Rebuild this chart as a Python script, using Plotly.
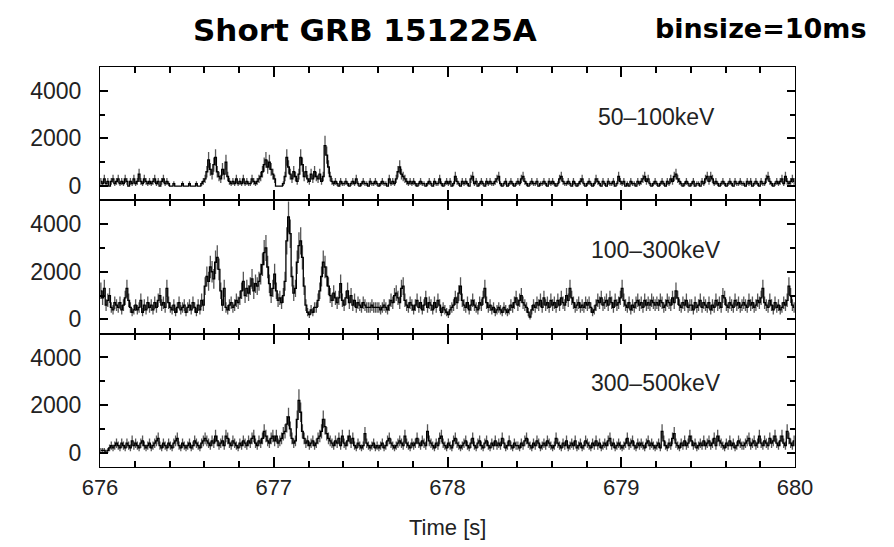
import numpy as np
import plotly.graph_objects as go
from plotly.subplots import make_subplots

# ---- data: counts per 10 ms bin, starting at t = 676.00 s ----
binsize = 0.01
t_start = 676.0

counts_50_100 = [
    2,1,3,1,2,0,2,3,1,2,  3,1,2,1,3,2,0,2,1,3,  1,2,5,2,1,3,2,1,2,1,  2,3,1,2,0,2,3,1,2,1,
    0,0,1,0,0,0,0,1,0,0,  0,1,0,0,0,1,0,0,1,2,  3,6,11,7,5,9,12,6,4,3, 7,5,10,4,2,1,2,1,3,1,
    2,1,3,1,2,1,1,3,2,1,  2,3,4,6,9,11,8,10,7,5, 3,0,0,0,0,1,4,12,8,5, 3,6,4,2,5,12,9,4,6,3,
    2,5,3,6,4,3,5,2,4,17, 13,8,4,2,1,2,1,0,2,1, 1,2,1,0,1,2,1,3,1,0,  1,2,1,1,0,2,1,1,2,1,
    0,1,2,1,1,0,3,1,2,1,  3,6,8,5,4,3,2,1,2,1,  2,1,0,1,2,1,1,0,1,2,  1,0,2,1,1,3,1,0,1,2,
    1,2,0,1,4,2,1,0,2,1,  2,1,0,3,4,1,2,0,1,2,  1,0,2,1,2,1,1,2,3,4,  1,0,1,2,0,1,2,1,0,1,
    2,1,3,4,2,1,0,1,2,1,  1,2,0,1,1,2,1,0,2,1,  2,1,0,1,3,4,2,1,1,2,  1,0,2,1,0,1,2,3,1,0,
    1,2,1,0,1,3,2,1,0,2,  1,0,2,1,1,2,0,1,4,2,  1,2,0,1,0,2,1,1,0,2,  1,2,3,4,2,3,1,0,1,2,
    1,0,1,2,1,0,2,1,3,2,  4,5,3,2,1,0,1,2,1,0,  1,2,0,1,1,0,2,1,3,4,  2,4,3,1,2,1,0,1,2,1,
    0,1,2,1,0,2,1,1,2,1,  1,0,2,1,2,0,1,2,1,0,  2,1,1,3,4,2,1,0,1,2,  1,2,3,1,4,2,1,2,3,2,
]

counts_100_300 = [
    12,9,13,6,8,10,5,4,7,6,  5,7,4,6,9,13,8,5,3,4,  6,4,5,8,3,6,4,7,5,6,  4,7,5,8,10,6,7,5,13,7,
    5,4,6,3,5,7,4,5,6,3,  5,6,4,7,5,3,6,4,8,6,  14,18,16,22,20,17,24,26,21,12,  6,13,5,4,6,7,5,6,8,7,
    9,12,16,10,13,11,14,17,12,15,  14,16,19,23,28,30,22,15,10,13,  19,12,8,9,7,10,16,33,43,36,  18,11,13,24,31,33,26,14,6,3,
    2,4,3,5,5,8,12,18,24,22,  18,14,10,8,11,9,7,9,15,8,  6,9,12,7,10,6,8,5,7,6,  5,7,6,5,5,5,6,5,5,5,
    5,4,5,6,5,4,6,8,7,10,  11,9,7,13,14,8,6,5,7,6,  4,6,8,5,7,4,6,9,5,7,  6,4,7,5,8,6,3,5,4,3,
    2,4,5,6,9,7,11,14,8,6,  5,7,4,6,8,6,5,4,7,6,  9,13,7,5,6,4,5,3,4,5,  4,3,5,4,3,4,6,5,7,9,
    6,8,10,7,6,5,3,1,4,6,  5,7,6,8,5,9,6,7,5,8,  6,7,5,8,6,9,7,6,10,8,  13,9,7,5,6,7,5,6,5,7,
    6,7,5,3,4,6,8,7,9,6,  7,8,6,9,7,5,8,6,7,9,  13,8,6,5,7,4,6,5,7,8,  6,7,5,8,6,7,6,8,7,6,
    7,6,8,7,5,6,8,7,6,9,  7,12,9,6,5,7,6,8,5,6,  6,4,7,5,6,8,5,7,6,5,  7,4,6,5,8,6,7,5,10,9,
    6,5,7,6,5,8,6,7,5,6,  7,6,5,8,6,7,5,6,8,7,  9,13,7,6,5,8,6,4,7,5,  6,4,5,7,6,8,14,10,6,5,
]

counts_300_500 = [
    1,1,1,0,1,2,3,2,3,4,  3,2,4,3,2,4,3,2,5,3,  4,3,2,4,5,3,2,3,4,2,  3,4,5,6,3,2,4,3,2,4,
    3,2,4,5,6,3,2,4,3,2,  3,4,2,3,5,4,3,2,4,5,  6,5,4,3,5,4,7,5,3,4,  5,3,7,6,4,3,5,4,3,2,
    4,3,5,4,3,5,4,6,7,4,  3,5,4,6,9,7,5,4,6,7,  5,7,4,5,6,8,9,12,15,10,  6,4,5,14,22,17,9,6,4,5,
    3,4,5,3,4,6,7,9,14,11,  8,6,5,4,3,5,4,6,3,7,  4,3,5,7,4,6,3,2,4,3,  2,3,8,4,3,2,3,4,2,3,
    2,3,4,2,3,5,6,4,3,2,  3,4,5,4,3,7,4,3,2,4,  3,4,6,4,3,5,4,3,9,5,  4,3,2,4,3,6,7,4,3,2,
    4,3,2,5,6,4,3,2,3,4,  5,3,2,4,6,3,2,4,5,3,  2,4,5,3,2,4,3,5,3,4,  3,6,4,2,3,5,3,2,4,3,
    3,2,4,3,5,6,4,3,2,4,  3,5,4,2,3,4,3,5,4,3,  2,3,6,4,3,2,4,3,5,2,  3,4,3,5,2,3,4,2,3,5,
    4,3,2,4,3,5,3,4,2,3,  4,3,5,6,3,4,2,3,4,3,  2,3,4,6,3,4,5,3,2,4,  3,4,3,2,4,5,3,4,3,2,
    3,4,2,9,5,3,2,4,3,6,  8,4,3,2,4,3,5,3,4,7,  5,3,4,2,3,4,3,5,3,4,  5,3,4,6,3,7,5,4,3,2,
    4,3,5,3,4,2,3,5,4,3,  3,4,5,6,3,4,5,3,4,7,  4,3,5,4,3,6,4,5,7,4,  3,5,7,4,3,9,6,4,3,5,
]

band_labels = ["50–100keV", "100–300keV", "300–500keV"]
x_range = [676, 680]
y_range = [-600, 5000]
x_major_ticks = [676, 677, 678, 679, 680]
y_major_ticks = [0, 2000, 4000]

series = [counts_50_100, counts_100_300, counts_300_500]

fig = make_subplots(rows=3, cols=1, shared_xaxes=False, vertical_spacing=0)

FONT = "Liberation Sans, Arial, Helvetica, sans-serif"

for i, c in enumerate(series):
    c = np.array(c, dtype=float)
    t = t_start + binsize * (np.arange(len(c)) + 0.5)
    rate = c / binsize
    err = np.sqrt(c) / binsize
    fig.add_trace(go.Scatter(
        x=t, y=rate, mode="lines",
        line=dict(color="#000000", width=1.3, shape="hvh"),
        error_y=dict(type="data", array=err, visible=True,
                     color="rgba(45,45,45,0.8)", thickness=1.3, width=0),
        showlegend=False, hoverinfo="skip",
    ), row=i + 1, col=1)

for r in range(1, 4):
    fig.update_xaxes(
        range=x_range, tickmode="array", tickvals=x_major_ticks,
        ticks="inside", ticklen=10, tickwidth=1.5, tickcolor="black",
        showline=True, linecolor="black", linewidth=1.2, mirror="ticks",
        showgrid=False, zeroline=False,
        minor=dict(dtick=0.2, ticks="inside", ticklen=6, tickwidth=1.5,
                   tickcolor="black", showgrid=False),
        showticklabels=(r == 3),
        tickfont=dict(family=FONT, size=22, color="#222"),
        row=r, col=1)
    fig.update_yaxes(
        range=y_range, tickmode="array", tickvals=y_major_ticks,
        ticks="inside", ticklen=8, tickwidth=1.5, tickcolor="black",
        showline=True, linecolor="black", linewidth=1.2, mirror="ticks",
        showgrid=False, zeroline=False,
        minor=dict(dtick=1000, ticks="inside", ticklen=5, tickwidth=1.5,
                   tickcolor="black", showgrid=False),
        tickfont=dict(family=FONT, size=23, color="#222"),
        ticklabelstandoff=13,
        row=r, col=1)

ann = []
label_y = [0.875, 0.5425, 0.21]
for lab, yy in zip(band_labels, label_y):
    ann.append(dict(text=lab, x=0.80, y=yy, xref="paper", yref="paper",
                    xanchor="center", yanchor="middle",
                    showarrow=False, font=dict(family=FONT, size=23, color="#222")))
ann.append(dict(text="<b>Short GRB 151225A</b>", x=0.381, y=1.0925, xref="paper",
                yref="paper", xanchor="center", yanchor="middle", showarrow=False,
                font=dict(family="DejaVu Sans", size=31, color="black")))
ann.append(dict(text="<b>binsize=10ms</b>", x=0.951, y=1.0975, xref="paper",
                yref="paper", xanchor="center", yanchor="middle", showarrow=False,
                font=dict(family="DejaVu Sans", size=27, color="black")))
ann.append(dict(text="Time [s]", x=0.50, y=-0.15, xref="paper", yref="paper",
                xanchor="center", yanchor="middle",
                showarrow=False, font=dict(family=FONT, size=22, color="#222")))

fig.update_layout(
    template="simple_white",
    width=894, height=547,
    margin=dict(l=100, r=99, t=67, b=80),
    paper_bgcolor="white", plot_bgcolor="white",
    annotations=ann,
)

fig.write_html("out.html")
